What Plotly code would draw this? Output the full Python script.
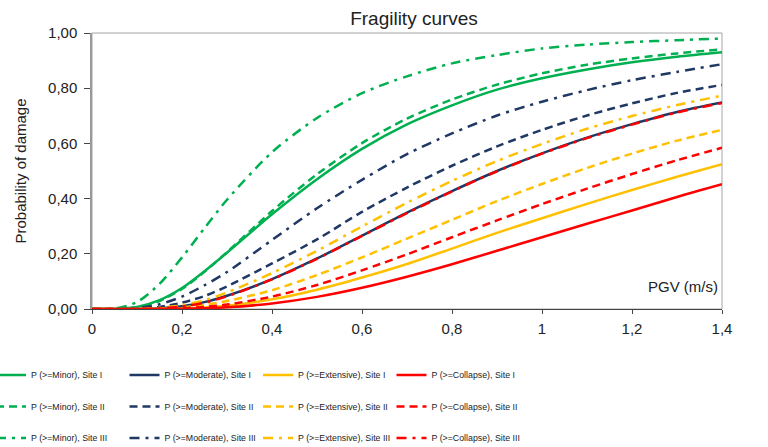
import plotly.graph_objects as go

pgv = [0, 0.05, 0.1, 0.15, 0.2, 0.25, 0.3, 0.4, 0.5, 0.6, 0.7, 0.8, 0.9, 1.0, 1.1, 1.2, 1.3, 1.4]

minor_1 = [0, 0.0002, 0.007, 0.032, 0.076, 0.137, 0.204, 0.343, 0.470, 0.580, 0.669, 0.738, 0.795, 0.836, 0.868, 0.894, 0.914, 0.930]
minor_2 = [0, 0.0002, 0.006, 0.029, 0.073, 0.135, 0.206, 0.355, 0.488, 0.601, 0.690, 0.759, 0.813, 0.854, 0.885, 0.908, 0.926, 0.941]
minor_3 = [0, 0.0012, 0.025, 0.091, 0.187, 0.293, 0.396, 0.568, 0.692, 0.782, 0.843, 0.890, 0.920, 0.944, 0.958, 0.967, 0.974, 0.980]

moderate_1 = [0, 0, 0.0004, 0.003, 0.010, 0.025, 0.048, 0.108, 0.183, 0.266, 0.349, 0.427, 0.500, 0.564, 0.621, 0.670, 0.714, 0.748]
moderate_2 = [0, 0, 0.0012, 0.0076, 0.023, 0.047, 0.082, 0.165, 0.252, 0.352, 0.440, 0.519, 0.589, 0.649, 0.701, 0.745, 0.783, 0.812]
moderate_3 = [0, 0.0001, 0.003, 0.017, 0.045, 0.086, 0.134, 0.250, 0.365, 0.468, 0.561, 0.636, 0.701, 0.751, 0.793, 0.829, 0.859, 0.887]

extensive_1 = [0, 0, 0, 0.0005, 0.002, 0.0057, 0.012, 0.035, 0.070, 0.114, 0.163, 0.219, 0.276, 0.329, 0.381, 0.431, 0.479, 0.525]
extensive_2 = [0, 0, 0.0002, 0.0016, 0.006, 0.015, 0.029, 0.068, 0.123, 0.187, 0.255, 0.323, 0.391, 0.453, 0.511, 0.563, 0.610, 0.649]
extensive_3 = [0, 0, 0.0006, 0.0043, 0.014, 0.032, 0.060, 0.130, 0.211, 0.299, 0.385, 0.464, 0.536, 0.598, 0.653, 0.699, 0.739, 0.773]

collapse_1 = [0, 0, 0, 0.0002, 0.0008, 0.0026, 0.006, 0.020, 0.044, 0.077, 0.117, 0.162, 0.211, 0.260, 0.309, 0.357, 0.406, 0.452]
collapse_2 = [0, 0, 0.0001, 0.0006, 0.0027, 0.0073, 0.016, 0.045, 0.087, 0.140, 0.198, 0.260, 0.321, 0.380, 0.436, 0.489, 0.539, 0.584]
collapse_3 = [0, 0, 0.0003, 0.0025, 0.009, 0.023, 0.046, 0.107, 0.182, 0.265, 0.347, 0.426, 0.499, 0.563, 0.619, 0.668, 0.712, 0.746]

x_tick_vals = [0, 0.2, 0.4, 0.6, 0.8, 1.0, 1.2, 1.4]
x_tick_text = ["0", "0,2", "0,4", "0,6", "0,8", "1", "1,2", "1,4"]
y_tick_vals = [0, 0.2, 0.4, 0.6, 0.8, 1.0]
y_tick_text = ["0,00", "0,20", "0,40", "0,60", "0,80", "1,00"]

GREEN = "#00B050"
NAVY = "#203864"
GOLD = "#FFC000"
RED = "#FF0000"
DASH = "8px,5px"
DASHDOT = "10px,6px,3px,6px"

series = [
    ("P (>=Minor), Site I", minor_1, GREEN, "solid", "legend"),
    ("P (>=Moderate), Site I", moderate_1, NAVY, "solid", "legend"),
    ("P (>=Extensive), Site I", extensive_1, GOLD, "solid", "legend"),
    ("P (>=Collapse), Site I", collapse_1, RED, "solid", "legend"),
    ("P (>=Minor), Site II", minor_2, GREEN, DASH, "legend2"),
    ("P (>=Moderate), Site II", moderate_2, NAVY, DASH, "legend2"),
    ("P (>=Extensive), Site II", extensive_2, GOLD, DASH, "legend2"),
    ("P (>=Collapse), Site II", collapse_2, RED, DASH, "legend2"),
    ("P (>=Minor), Site III", minor_3, GREEN, DASHDOT, "legend3"),
    ("P (>=Moderate), Site III", moderate_3, NAVY, DASHDOT, "legend3"),
    ("P (>=Extensive), Site III", extensive_3, GOLD, DASHDOT, "legend3"),
    ("P (>=Collapse), Site III", collapse_3, RED, DASHDOT, "legend3"),
]

fig = go.Figure()
for name, vals, color, dash, leg in series:
    fig.add_trace(go.Scatter(
        x=pgv, y=vals, name=name, mode="lines",
        line=dict(color=color, width=2.5, dash=dash, shape="spline", smoothing=0.8),
        legend=leg,
    ))

legend_font = dict(family="Liberation Sans, Arial, sans-serif", size=8.8, color="#222222")
leg_common = dict(orientation="h", xref="container", yref="container", x=0, xanchor="left",
                  yanchor="middle", entrywidth=97.5, entrywidthmode="pixels", indentation=-9,
                  font=legend_font, bgcolor="rgba(0,0,0,0)", traceorder="normal")

fig.update_layout(
    width=768, height=447,
    margin=dict(l=92, r=46, t=33, b=138),
    paper_bgcolor="white", plot_bgcolor="white",
    font=dict(family="Liberation Sans, Arial, sans-serif", size=15, color="#222222"),
    title=dict(text="Fragility curves", x=414 / 768, xanchor="center", y=1 - 18 / 447, yanchor="middle",
               font=dict(size=19, color="#222222")),
    xaxis=dict(range=[0, 1.4], tickvals=x_tick_vals, ticktext=x_tick_text,
               showgrid=False, zeroline=False, showline=True, linecolor="#444444", linewidth=1,
               ticks="outside", ticklen=4, tickcolor="#444444", mirror=False,
               tickfont=dict(size=15), ticklabelstandoff=2, automargin=False),
    yaxis=dict(range=[0, 1.0], tickvals=y_tick_vals, ticktext=y_tick_text,
               showgrid=False, zeroline=False, showline=True, linecolor="#999999", linewidth=1.5,
               ticks="outside", ticklen=6, tickcolor="#444444", ticklabelstandoff=4,
               title=dict(text="Probability of damage", font=dict(size=15), standoff=18),
               tickfont=dict(size=15), automargin=False),
    legend=dict(y=1 - 375 / 447, **leg_common),
    legend2=dict(y=1 - 406.5 / 447, **leg_common),
    legend3=dict(y=1 - 438 / 447, **leg_common),
    shapes=[dict(type="rect", xref="paper", yref="paper", x0=0, x1=1, y0=0, y1=1,
                 line=dict(color="#A6A6A6", width=1), layer="below")],
    annotations=[dict(text="PGV (m/s)", xref="paper", yref="paper", x=0.997, y=0.08,
                      xanchor="right", yanchor="middle", showarrow=False,
                      font=dict(size=15, color="#222222"))],
)

fig.write_html("out.html", post_script="document.body.style.margin='0px';",
               config={"displayModeBar": False})
